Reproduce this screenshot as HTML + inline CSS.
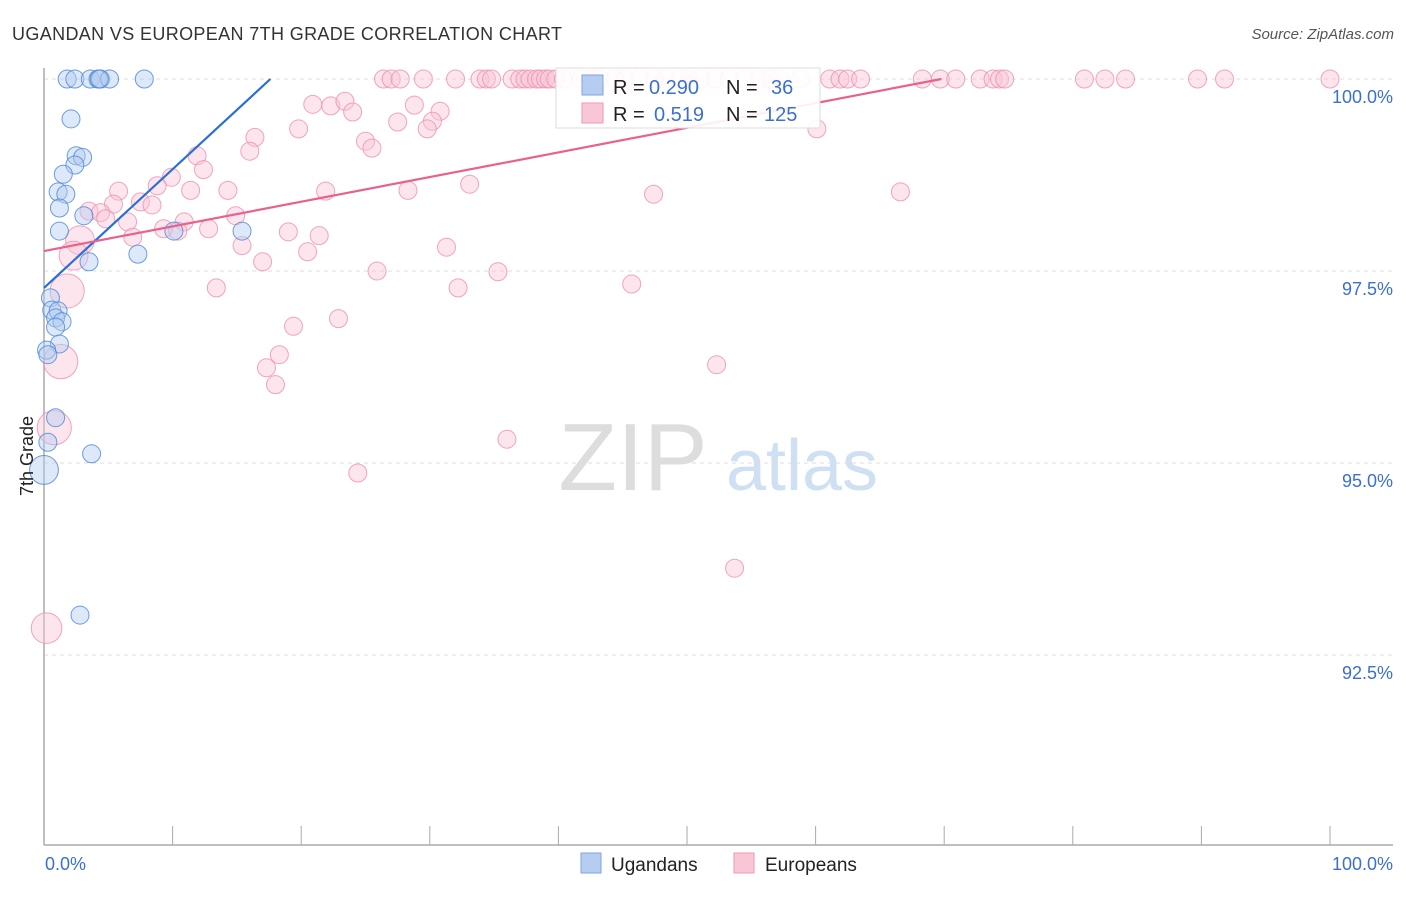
<!DOCTYPE html>
<html><head><meta charset="utf-8"><style>
body{margin:0;background:#fff;font-family:"Liberation Sans",Arial,sans-serif}
svg text{font-family:"Liberation Sans",Arial,sans-serif}
</style></head><body>
<svg id="chart" width="1406" height="892" viewBox="0 0 1406 892">
<text x="12" y="40" font-size="18" fill="#333" textLength="550">UGANDAN VS EUROPEAN 7TH GRADE CORRELATION CHART</text>
<text x="1394" y="39" font-size="15" fill="#555" font-style="italic" text-anchor="end">Source: ZipAtlas.com</text>
<g>
<text x="633" y="490" font-size="96" fill="#ddd" font-family="Liberation Serif,serif" text-anchor="middle">ZIP</text>
<text x="802" y="490" font-size="72" fill="#cfe0f3" text-anchor="middle">atlas</text>
</g>
<g id="grid"></g>
<g id="axes"></g>
<g id="pts"></g>
<g id="lines"></g>
<g>
<rect x="556" y="68" width="264" height="60" fill="#fff" fill-opacity="0.9" stroke="#ddd"/>
<rect x="582" y="75" width="21" height="20" fill="#b4cdf0" stroke="#7ea6e0"/>
<text x="613" y="94" font-size="20" fill="#222">R =</text>
<text x="649" y="94" font-size="20" fill="#3b6fd0">0.290</text>
<text x="726" y="94" font-size="20" fill="#222">N =</text>
<text x="771" y="94" font-size="20" fill="#3b6fd0">36</text>
<rect x="582" y="103" width="21" height="20" fill="#f9c6d6" stroke="#ef9ab6"/>
<text x="613" y="121" font-size="20" fill="#222">R =</text>
<text x="654" y="121" font-size="20" fill="#3b6fd0">0.519</text>
<text x="726" y="121" font-size="20" fill="#222">N =</text>
<text x="764" y="121" font-size="20" fill="#3b6fd0">125</text>
</g>
<g>
<rect x="581" y="853" width="20" height="20" fill="#b4cdf0" stroke="#7ea6e0"/>
<text x="611" y="871" font-size="19" fill="#222">Ugandans</text>
<rect x="734" y="853" width="20" height="20" fill="#f9c6d6" stroke="#ef9ab6"/>
<text x="765" y="871" font-size="19" fill="#222">Europeans</text>
</g>
<text transform="translate(33,456) rotate(-90)" font-size="18" fill="#222" text-anchor="middle">7th Grade</text>
</svg>
<script>
const yTicks=[100,97.5,95,92.5];
const yTickLabels=["100.0%","97.5%","95.0%","92.5%"];
const xLabels=["0.0%","100.0%"];
const ugX=[1.8,2.4,3.6,4.2,4.4,5.1,7.8,2.1,2.5,3.0,2.4,1.5,1.1,1.7,1.2,3.1,1.2,10.1,15.4,3.5,7.3,0.5,0.6,1.1,0.9,1.4,0.9,1.2,0.2,0.3,0.9,0.3,3.7,0,2.8,4.3];
const ugY=[100,100,100,100,100,100,100,99.48,99.0,98.98,98.88,98.76,98.53,98.5,98.32,98.22,98.02,98.02,98.02,97.62,97.72,97.15,96.99,96.98,96.89,96.84,96.77,96.55,96.47,96.41,95.59,95.27,95.12,94.91,93.02,100];
const ugS=[1,1,1,1,1,1,1,1,1,1,1,1,1,1,1,1,1,1,1,1,1,1,1,1,1,1,1,1,1,1,1,1,1,1.6,1,1];
const euTopX=[26.4,27.0,27.7,29.5,32.0,33.9,34.4,34.8,36.4,37.0,37.4,37.8,38.3,38.6,39.0,39.3,39.8,40.4,41.7,42.5,43.2,44.4,45.2,46.3,47.5,48.3,49.5,50.2,51.0,52.2,53.3,54.5,55.7,56.5,57.2,58.8,61.1,61.9,62.5,63.5,68.3,69.7,70.9,72.8,73.8,74.3,74.7,80.9,82.5,84.1,89.7,91.8,100];
const euX=[20.9,22.3,23.4,24.0,28.8,30.8,30.2,27.5,29.8,19.8,16.4,25.0,25.5,16.0,11.9,60.1,12.4,9.9,8.8,5.8,11.4,14.3,21.9,28.3,33.1,47.4,66.6,5.4,7.5,8.4,3.5,4.4,4.8,6.5,10.9,14.9,9.3,12.8,19.0,10.4,21.4,6.9,2.8,15.4,20.5,31.3,17.0,2.3,25.9,35.3,1.8,13.4,32.2,45.7,19.4,22.9,1.3,18.3,17.3,18.0,52.3,0.8,36.0,24.4,53.7,0.2];
const euY=[99.67,99.65,99.71,99.57,99.66,99.58,99.45,99.44,99.35,99.35,99.24,99.19,99.10,99.06,99.0,99.35,98.82,98.72,98.61,98.54,98.55,98.55,98.54,98.55,98.63,98.5,98.53,98.37,98.4,98.36,98.28,98.26,98.18,98.14,98.14,98.22,98.05,98.05,98.01,98.02,97.96,97.94,97.9,97.83,97.75,97.81,97.62,97.7,97.5,97.49,97.24,97.28,97.28,97.33,96.78,96.88,96.32,96.41,96.24,96.02,96.28,95.46,95.31,94.87,93.63,92.85];
const euS=[1,1,1,1,1,1,1,1,1,1,1,1,1,1,1,1,1,1,1,1,1,1,1,1,1,1,1,1,1,1,1,1,1,1,1,1,1,1,1,1,1,1,1.6,1,1,1,1,1.6,1,1,1.9,1,1,1,1,1,1.9,1,1,1,1,1.9,1,1,1,1.7];
const ugLine=[97.28,0.1545];
const euLine=[97.76,0.0321];
const xs=v=>44+v*12.86;
const ys=v=>79+(100-v)*76.8;
const NS="http://www.w3.org/2000/svg";
function mk(t,a,p){const e=document.createElementNS(NS,t);for(const k in a)e.setAttribute(k,a[k]);p.appendChild(e);return e;}
const grid=document.getElementById('grid'),axes=document.getElementById('axes'),pts=document.getElementById('pts'),lines=document.getElementById('lines');
yTicks.forEach((t,i)=>{
 const g=mk('line',{x1:44,x2:1393,y1:ys(t),y2:ys(t),stroke:'#ddd','stroke-dasharray':'4,4'},grid);
 
 
 const l=mk('text',{x:1393,y:ys(t)+24,'font-size':18,fill:'#3b6fd0','text-anchor':'end'},axes);
 l.textContent=yTickLabels[i];
 
 
});
const ya=mk('line',{x1:44,x2:44,y1:68,y2:845,stroke:'#aaa','stroke-width':1.5},axes);


const xa=mk('line',{x1:44,x2:1393,y1:845,y2:845,stroke:'#aaa','stroke-width':1.5},axes);


for(let i=0;i<=10;i++){
 const t=mk('line',{x1:xs(i*10),x2:xs(i*10),y1:826,y2:845,stroke:'#aaa'},axes);
 
 
}
[[0,'start',45],[100,'end',1393]].forEach((d,i)=>{
 const l=mk('text',{x:d[2],y:870,'font-size':18,fill:'#3b6fd0','text-anchor':d[1]},axes);
 l.textContent=xLabels[i];
 
 
});
function dot(x,y,s,fill,stroke,name){
 const c=mk('circle',{cx:xs(x),cy:ys(y),r:9*s,fill:fill,'fill-opacity':0.45,stroke:stroke,'stroke-opacity':0.8},pts);
 
 
}
euTopX.forEach(x=>dot(x,100,1,'#f9c6d6','#ef8fb0','european-point'));
euX.forEach((x,i)=>dot(x,euY[i],euS[i],'#f9c6d6','#ef8fb0','european-point'));
ugX.forEach((x,i)=>dot(x,ugY[i],ugS[i],'#b4cdf0','#4a86d8','ugandan-point'));
function trend(p,x2,col,name){
 const l=mk('line',{x1:xs(0),y1:ys(p[0]),x2:xs(x2),y2:ys(p[0]+p[1]*x2),stroke:col,'stroke-width':2.2},lines);
 
 
}
trend(ugLine,(100-ugLine[0])/ugLine[1],'#2a6fd6','ugandan-trendline');
trend(euLine,(100-euLine[0])/euLine[1],'#e8618f','european-trendline');
</script>
</body></html>
